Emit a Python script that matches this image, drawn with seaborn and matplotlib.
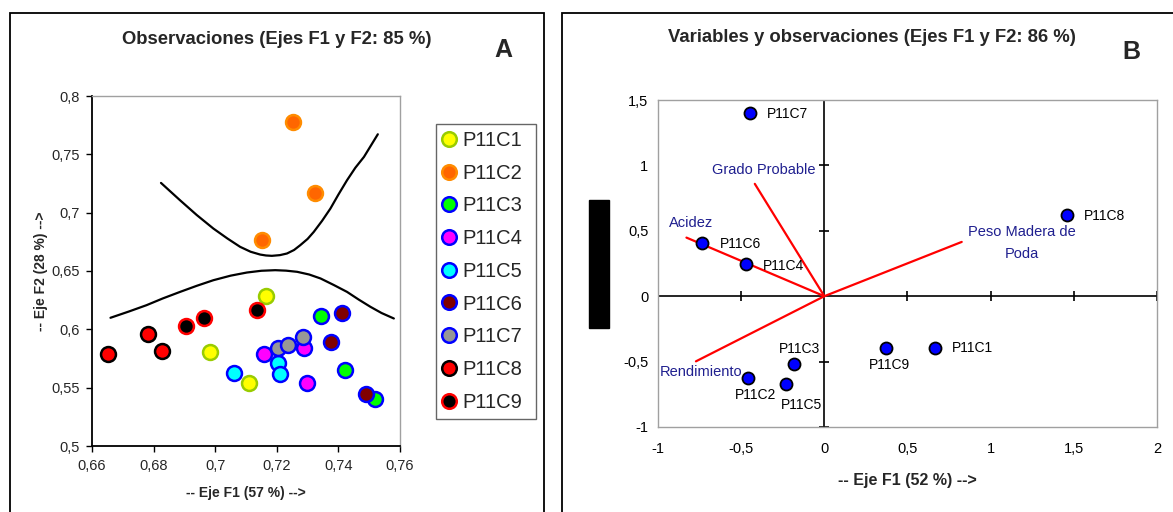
import matplotlib
matplotlib.use("Agg")
import matplotlib.pyplot as plt
from matplotlib.lines import Line2D
from matplotlib.patches import Rectangle
from matplotlib.ticker import FuncFormatter
import seaborn as sns
import pandas as pd

# ---------------- data: panel A ----------------
groups = ["P11C1", "P11C2", "P11C3", "P11C4", "P11C5", "P11C6", "P11C7", "P11C8", "P11C9"]
obs_group = (["P11C1"] * 3 + ["P11C2"] * 3 + ["P11C3"] * 3 + ["P11C4"] * 3 + ["P11C5"] * 3
             + ["P11C6"] * 3 + ["P11C7"] * 3 + ["P11C8"] * 3 + ["P11C9"] * 3)
obs_f1 = [0.7165, 0.6983, 0.7109,
          0.7251, 0.7323, 0.7152,
          0.7342, 0.7421, 0.7519,
          0.7160, 0.7289, 0.7298,
          0.7060, 0.7203, 0.7210,
          0.7412, 0.7376, 0.7490,
          0.7203, 0.7236, 0.7286,
          0.6653, 0.6783, 0.6827,
          0.6904, 0.6964, 0.7135]
obs_f2 = [0.6284, 0.5808, 0.5536,
          0.7777, 0.7169, 0.6770,
          0.6113, 0.5650, 0.5402,
          0.5785, 0.5836, 0.5536,
          0.5628, 0.5714, 0.5617,
          0.6142, 0.5888, 0.5445,
          0.5842, 0.5865, 0.5933,
          0.5790, 0.5956, 0.5816,
          0.6030, 0.6096, 0.6170]

upper_x = [0.6824, 0.6886, 0.6940, 0.6994, 0.7040, 0.7081, 0.7115, 0.7146, 0.7165, 0.7184,
           0.7210, 0.7233, 0.7256, 0.7276, 0.7300, 0.7320, 0.7347, 0.7374, 0.7400, 0.7428,
           0.7455, 0.7483, 0.7528]
upper_y = [0.7255, 0.7106, 0.6980, 0.6864, 0.6778, 0.6707, 0.6665, 0.6641, 0.6633, 0.6630,
           0.6636, 0.6650, 0.6680, 0.6721, 0.6775, 0.6835, 0.6930, 0.7035, 0.7155, 0.7278,
           0.7385, 0.7478, 0.7672]
lower_x = [0.6660, 0.6720, 0.6777, 0.6830, 0.6886, 0.6940, 0.6994, 0.7050, 0.7103, 0.7150,
           0.7195, 0.7230, 0.7266, 0.7305, 0.7342, 0.7385, 0.7428, 0.7466, 0.7504, 0.7540,
           0.7580]
lower_y = [0.6099, 0.6153, 0.6207, 0.6265, 0.6321, 0.6373, 0.6421, 0.6460, 0.6487, 0.6502,
           0.6507, 0.6503, 0.6493, 0.6470, 0.6436, 0.6380, 0.6321, 0.6255, 0.6193, 0.6140,
           0.6093]

a_xticks = [0.66, 0.68, 0.70, 0.72, 0.74, 0.76]
a_yticks = [0.5, 0.55, 0.6, 0.65, 0.7, 0.75, 0.8]

# ---------------- data: panel B ----------------
var_names = ["Acidez", "Grado Probable", "Peso Madera de\nPoda", "Rendimiento"]
var_f1 = [-0.829, -0.418, 0.826, -0.772]
var_f2 = [0.448, 0.859, 0.415, -0.498]

b_names = ["P11C1", "P11C2", "P11C3", "P11C4", "P11C5", "P11C6", "P11C7", "P11C8", "P11C9"]
b_f1 = [0.666, -0.461, -0.180, -0.472, -0.232, -0.737, -0.447, 1.461, 0.373]
b_f2 = [-0.397, -0.626, -0.519, 0.244, -0.672, 0.410, 1.400, 0.621, -0.397]

b_xticks = [-1, -0.5, 0, 0.5, 1, 1.5, 2]
b_yticks = [-1, -0.5, 0, 0.5, 1, 1.5]

# ---------------- styles ----------------
face = {"P11C1": "#FFFF00", "P11C2": "#FF6600", "P11C3": "#00FF00", "P11C4": "#FF00FF",
        "P11C5": "#00FFFF", "P11C6": "#800000", "P11C7": "#969696", "P11C8": "#FF0000",
        "P11C9": "#000000"}
edge = {"P11C1": "#99CC00", "P11C2": "#FF8C00", "P11C3": "#0000FF", "P11C4": "#0000FF",
        "P11C5": "#0000FF", "P11C6": "#0000FF", "P11C7": "#0000FF", "P11C8": "#000000",
        "P11C9": "#FF0000"}

sns.set_theme(style="white")
plt.rcParams["font.family"] = ["Liberation Sans", "DejaVu Sans"]

W, H = 1173, 512
fig = plt.figure(figsize=(W / 100, H / 100), dpi=100)

def fx(px):
    return px / W

def fy(py):
    return 1 - py / H

comma = FuncFormatter(lambda v, p: f"{v:g}".replace(".", ","))

# frames around panels
fig.patches.append(Rectangle((fx(10), fy(540)), fx(544 - 10), (540 - 13) / H,
                             transform=fig.transFigure, fill=False, ec="black", lw=1.3, zorder=0))
fig.patches.append(Rectangle((fx(562), fy(540)), fx(1200 - 562), (540 - 13) / H,
                             transform=fig.transFigure, fill=False, ec="black", lw=1.3, zorder=0))

# ---------------- panel A ----------------
axA = fig.add_axes([fx(92), fy(446), fx(400 - 92), (446 - 96) / H])
dfA = pd.DataFrame({"group": obs_group, "F1": obs_f1, "F2": obs_f2})

sns.lineplot(x=upper_x, y=upper_y, sort=False, estimator=None, color="black", lw=1.6, ax=axA)
sns.lineplot(x=lower_x, y=lower_y, sort=False, estimator=None, color="black", lw=1.6, ax=axA)
for g in groups:
    sub = dfA[dfA["group"] == g]
    sns.scatterplot(data=sub, x="F1", y="F2", color=face[g], edgecolor=edge[g],
                    linewidth=1.8, s=115, ax=axA, zorder=3, legend=False)

axA.set_xlim(0.66, 0.76)
axA.set_ylim(0.5, 0.8)
axA.set_xticks(a_xticks)
axA.set_yticks(a_yticks)
axA.xaxis.set_major_formatter(comma)
axA.yaxis.set_major_formatter(comma)
axA.tick_params(axis="both", which="major", direction="out", length=4, width=1,
                color="black", labelsize=10.5, pad=5, bottom=True, left=True)
for s in ["left", "bottom"]:
    axA.spines[s].set_color("black")
    axA.spines[s].set_linewidth(1.3)
for s in ["top", "right"]:
    axA.spines[s].set_color("#A0A0A0")
    axA.spines[s].set_linewidth(1.0)
axA.set_xlabel("-- Eje F1 (57 %) -->", fontsize=10, fontweight="bold", labelpad=10)
axA.set_ylabel("-- Eje F2 (28 %) -->", fontsize=10, fontweight="bold", labelpad=2)
fig.text(fx(277), fy(40), "Observaciones (Ejes F1 y F2: 85 %)", ha="center", va="center",
         fontsize=13.3, fontweight="bold")
fig.text(fx(503), fy(50), "A", ha="center", va="center", fontsize=18, fontweight="bold")

handles = [Line2D([], [], marker="o", linestyle="", markerfacecolor=face[g],
                  markeredgecolor=edge[g], markeredgewidth=1.8, markersize=10.5) for g in groups]
leg = fig.legend(handles, groups, loc="upper left",
                 bbox_to_anchor=(fx(436), fy(418), fx(100), (418 - 124) / H),
                 mode="expand", borderaxespad=0, frameon=True, fancybox=False, fontsize=14.5,
                 handlelength=0.6, handletextpad=0.35, labelspacing=0.68, borderpad=0.35)
leg.get_frame().set_edgecolor("#404040")
leg.get_frame().set_linewidth(1.0)

# ---------------- panel B ----------------
axB = fig.add_axes([fx(658), fy(427), fx(1157 - 658), (427 - 100) / H])
axB.set_xlim(-1, 2)
axB.set_ylim(-1, 1.5)
axB.axhline(0, color="black", lw=1.2, zorder=1)
axB.axvline(0, color="black", lw=1.2, zorder=1)
sns.scatterplot(x=[t for t in b_xticks if t != 0], y=[0] * (len(b_xticks) - 1), marker="|",
                s=60, color="black", linewidth=1.2, ax=axB, zorder=1, legend=False)
sns.scatterplot(x=[0] * (len(b_yticks) - 1), y=[t for t in b_yticks if t != 0], marker="_",
                s=60, color="black", linewidth=1.2, ax=axB, zorder=1, legend=False)

for vx, vy in zip(var_f1, var_f2):
    sns.lineplot(x=[0, vx], y=[0, vy], color="#FF0000", lw=1.6, ax=axB, estimator=None, sort=False)

sns.scatterplot(x=b_f1, y=b_f2, color="#0000FF", edgecolor="black", linewidth=1.3, s=75,
                ax=axB, zorder=4, legend=False)

var_label_pos = {"Acidez": (5, 15, "center", "center"),
                 "Grado Probable": (9, 14, "center", "center"),
                 "Peso Madera de\nPoda": (60, -1, "center", "center"),
                 "Rendimiento": (5, -11, "center", "center")}
for name, vx, vy in zip(var_names, var_f1, var_f2):
    dx, dy, ha, va = var_label_pos[name]
    axB.annotate(name, (vx, vy), xytext=(dx * 0.72, dy * 0.72), textcoords="offset points",
                 ha=ha, va=va, fontsize=10.5, color="#1F1F8F", linespacing=1.7)

obs_label_pos = {"P11C1": (17, 0, "left"), "P11C2": (8, -17, "center"), "P11C3": (5, 15, "center"),
                 "P11C4": (17, -2, "left"), "P11C5": (16, -21, "center"), "P11C6": (18, -1, "left"),
                 "P11C7": (17, -1, "left"), "P11C8": (17, -1, "left"), "P11C9": (3, -17, "center")}
for name, px_, py_ in zip(b_names, b_f1, b_f2):
    dx, dy, ha = obs_label_pos[name]
    axB.annotate(name, (px_, py_), xytext=(dx * 0.72, dy * 0.72), textcoords="offset points",
                 ha=ha, va="center", fontsize=10, color="black")

axB.set_xticks(b_xticks)
axB.set_yticks(b_yticks)
axB.xaxis.set_major_formatter(comma)
axB.yaxis.set_major_formatter(comma)
axB.tick_params(axis="both", length=0, labelsize=10.5, colors="black")
axB.tick_params(axis="x", pad=11)
axB.tick_params(axis="y", pad=7)
for s in axB.spines.values():
    s.set_color("#A0A0A0")
    s.set_linewidth(1.0)
axB.set_xlabel("-- Eje F1 (52 %) -->", fontsize=11.5, fontweight="bold", labelpad=12)
fig.text(fx(872), fy(38), "Variables y observaciones (Ejes F1 y F2: 86 %)", ha="center",
         va="center", fontsize=13.3, fontweight="bold")
fig.text(fx(1131), fy(52), "B", ha="center", va="center", fontsize=18, fontweight="bold")

# black block at left of panel B
fig.patches.append(Rectangle((fx(589), fy(328)), fx(20), 128 / H, transform=fig.transFigure,
                             color="black", zorder=2))

fig.savefig("out.png", dpi=100)
